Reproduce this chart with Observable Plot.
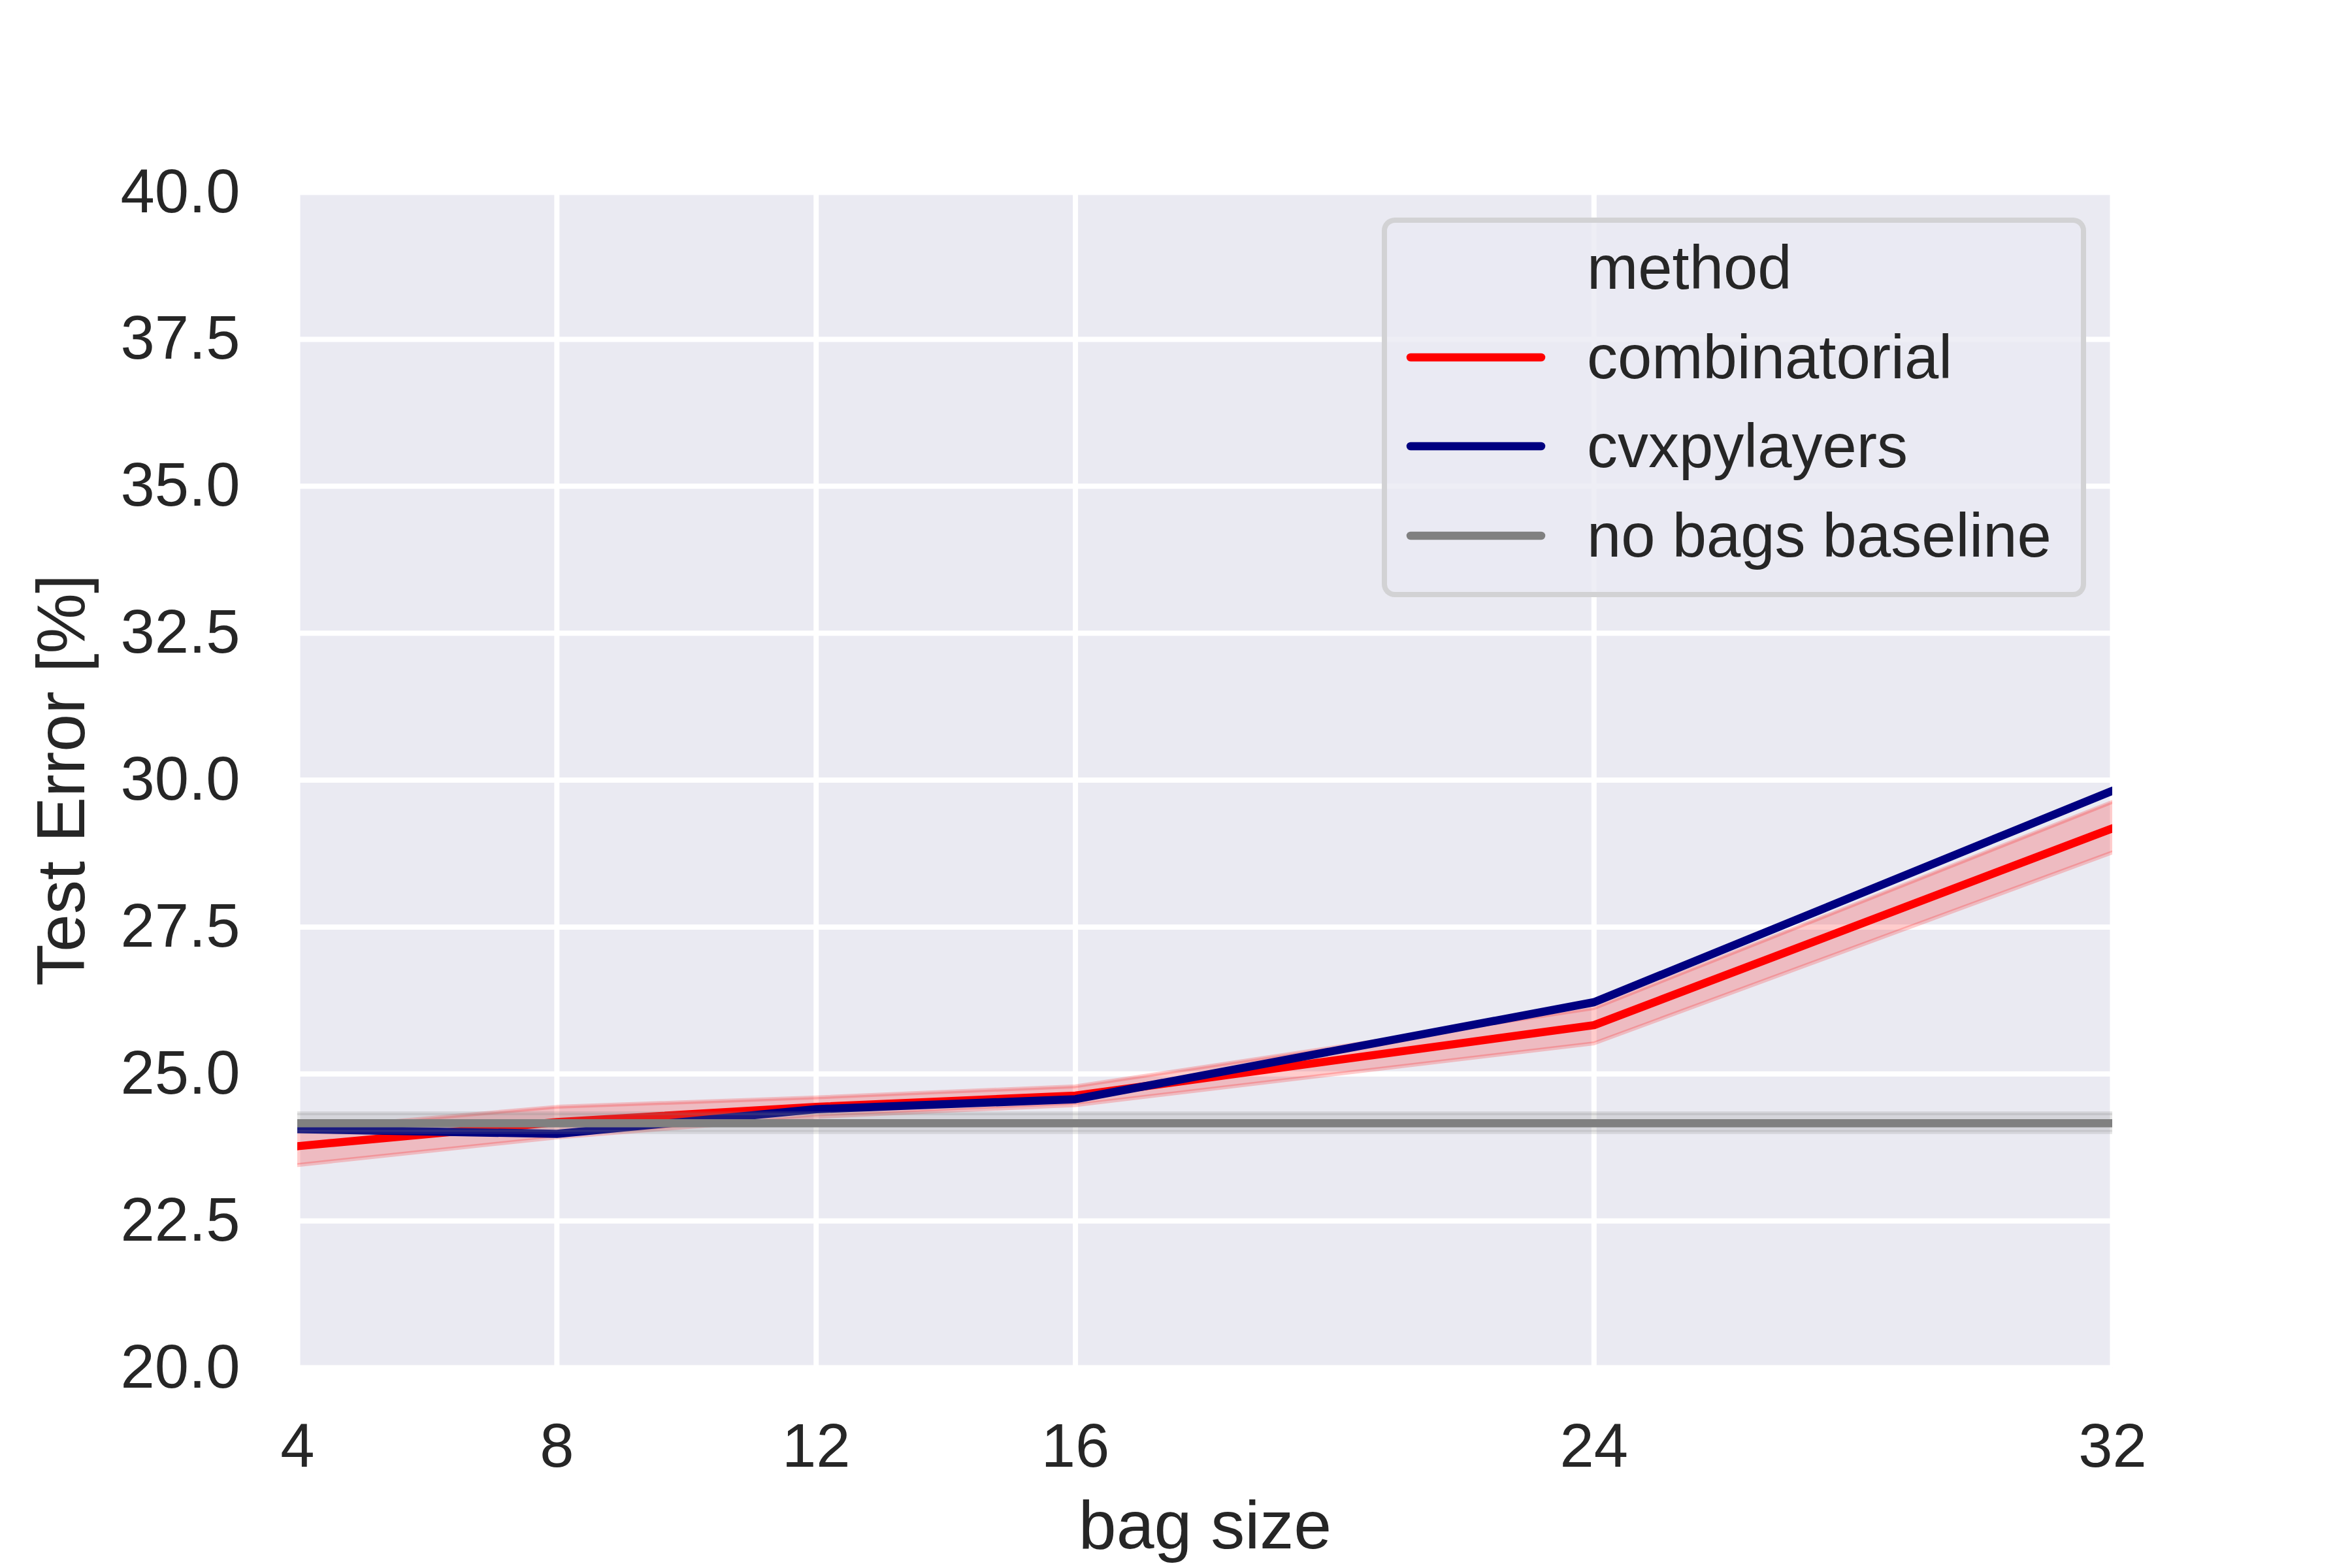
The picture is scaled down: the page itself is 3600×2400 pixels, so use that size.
<!DOCTYPE html>
<html>
<head>
<meta charset="utf-8">
<script src="https://cdn.jsdelivr.net/npm/d3@7"></script>
<script src="https://cdn.jsdelivr.net/npm/@observablehq/plot@0.6"></script>
<style>
  html, body { margin: 0; background: white; overflow: hidden; }
  #wrap { position: relative; width: 3600px; height: 2400px; overflow: hidden; font-family: "Liberation Sans", Arial, sans-serif; color: #262626; }
  #legend { position: absolute; left: 2115px; top: 333px; width: 1078px; height: 581px; box-sizing: border-box;
            border: 8px solid rgba(204,204,204,0.8); border-radius: 20px; background: rgba(234,234,242,0.8);
            font-size: 94px; color: #262626; }
  .row { position: absolute; left: 0; height: 120px; line-height: 120px; width: 100%; white-space: nowrap; }
  .row svg { position: absolute; left: 28px; top: 0; }
  .row span { position: absolute; left: 306px; top: 0; }
</style>
</head>
<body>
<div id="wrap"></div>
<script>
// ---- data ----
const bagSizes = [4, 8, 12, 16, 24, 32];
const yTicks = [20, 22.5, 25, 27.5, 30, 32.5, 35, 37.5, 40];

const combMean = [23.77, 24.18, 24.44, 24.63, 25.83, 29.18];
const combLow  = [23.45, 23.92, 24.27, 24.47, 25.52, 28.77];
const combHigh = [24.05, 24.44, 24.60, 24.79, 26.12, 29.63];

const cvxMean  = [24.06, 23.98, 24.40, 24.57, 26.22, 29.82];

const baseMean = [24.16, 24.16, 24.16, 24.16, 24.16, 24.16];
const baseLow  = [24.01, 24.01, 24.01, 24.01, 24.01, 24.01];
const baseHigh = [24.33, 24.33, 24.33, 24.33, 24.33, 24.33];

const methods = ["combinatorial", "cvxpylayers", "no bags baseline"];
const colors  = ["#ff0000", "#000080", "#808080"];

// ---- tables ----
const comb = bagSizes.map((x, i) => ({x, mean: combMean[i], low: combLow[i], high: combHigh[i]}));
const cvx  = bagSizes.map((x, i) => ({x, mean: cvxMean[i]}));
const base = bagSizes.map((x, i) => ({x, mean: baseMean[i], low: baseLow[i], high: baseHigh[i]}));

const font = "Liberation Sans, Arial, sans-serif";

const chart = Plot.plot({
  width: 3600,
  height: 2400,
  marginLeft: 455,
  marginRight: 367,
  marginTop: 294,
  marginBottom: 307,
  style: {fontFamily: font, fontSize: "94px", color: "#262626", background: "white"},
  x: {type: "linear", domain: [4, 32]},
  y: {type: "linear", domain: [20, 40]},
  marks: [
    Plot.frame({fill: "#EAEAF2", stroke: null}),
    Plot.gridX(bagSizes, {stroke: "white", strokeOpacity: 1, strokeWidth: 8}),
    Plot.gridY(yTicks, {stroke: "white", strokeOpacity: 1, strokeWidth: 8}),
    // combinatorial band
    Plot.areaY(comb, {x: "x", y1: "low", y2: "high", fill: colors[0], fillOpacity: 0.2, clip: true}),
    Plot.line(comb, {x: "x", y: "low", stroke: colors[0], strokeOpacity: 0.2, strokeWidth: 6, clip: true}),
    Plot.line(comb, {x: "x", y: "high", stroke: colors[0], strokeOpacity: 0.2, strokeWidth: 6, clip: true}),
    Plot.line(comb, {x: "x", y: "mean", stroke: colors[0], strokeWidth: 12.5, strokeLinejoin: "round", clip: true}),
    // cvxpylayers
    Plot.line(cvx, {x: "x", y: "mean", stroke: colors[1], strokeWidth: 12.5, strokeLinejoin: "round", clip: true}),
    // baseline band
    Plot.areaY(base, {x: "x", y1: "low", y2: "high", fill: colors[2], fillOpacity: 0.2, clip: true}),
    Plot.line(base, {x: "x", y: "low", stroke: colors[2], strokeOpacity: 0.2, strokeWidth: 6, clip: true}),
    Plot.line(base, {x: "x", y: "high", stroke: colors[2], strokeOpacity: 0.2, strokeWidth: 6, clip: true}),
    Plot.line(base, {x: "x", y: "mean", stroke: colors[2], strokeWidth: 12.5, clip: true}),
    // axes
    Plot.axisX({ticks: bagSizes, tickSize: 0, tickPadding: 85, tickFormat: d3.format("d"), fontSize: 94, label: null}),
    Plot.axisX({ticks: [], tickSize: 0, label: "bag size", labelAnchor: "center", labelArrow: "none", labelOffset: 276, fontSize: 104}),
    Plot.axisY({ticks: yTicks, tickSize: 0, tickPadding: 88, tickFormat: d3.format(".1f"), fontSize: 94, label: null}),
    Plot.axisY({ticks: [], tickSize: 0, label: "Test Error [%]", labelAnchor: "center", labelArrow: "none", labelOffset: 400, fontSize: 104})
  ]
});

const wrap = document.getElementById("wrap");
wrap.appendChild(chart);

// ---- legend ----
const legend = document.createElement("div");
legend.id = "legend";
const rows = [{label: "method", color: null, cy: 410}].concat(
  methods.map((m, i) => ({label: m, color: colors[i], cy: [547, 683, 820][i]}))
);
rows.forEach(r => {
  const row = document.createElement("div");
  row.className = "row";
  row.style.top = (r.cy - 333 - 8 - 60) + "px";
  if (r.color) {
    const svg = d3.create("svg").attr("width", 220).attr("height", 120);
    svg.append("line").attr("x1", 8).attr("x2", 208).attr("y1", 60).attr("y2", 60)
      .attr("stroke", r.color).attr("stroke-width", 12.5).attr("stroke-linecap", "round");
    row.appendChild(svg.node());
  }
  const span = document.createElement("span");
  span.textContent = r.label;
  row.appendChild(span);
  legend.appendChild(row);
});
wrap.appendChild(legend);
</script>
</body>
</html>
